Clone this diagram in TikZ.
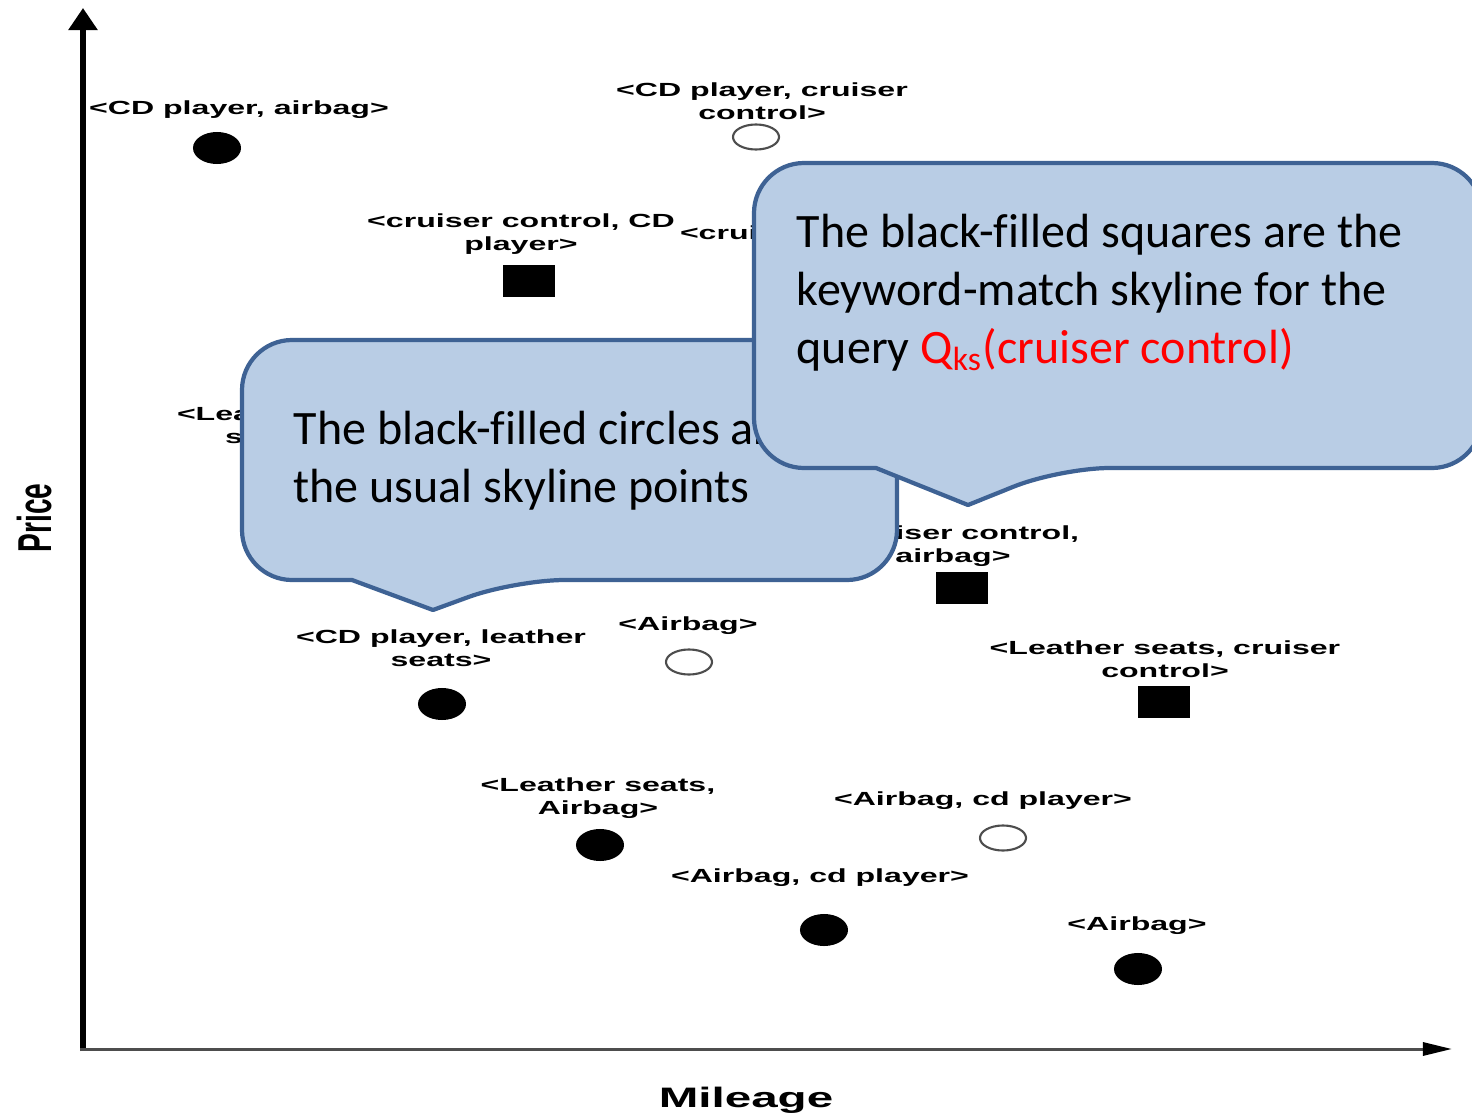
\documentclass[tikz,border=0pt]{standalone}
\usepackage{fontspec}
\usepackage{graphicx}
\usetikzlibrary{shapes.geometric,arrows.meta}
\setmainfont{Liberation Sans}
\newfontfamily\calfont[Ligatures=NoCommon]{Carlito}
\newcommand{\ptlabel}[1]{\scalebox{1.69}[1]{\fontsize{5.4pt}{6.55pt}\selectfont\bfseries\begin{tabular}{@{}c@{}}#1\end{tabular}}}
\definecolor{calfill}{HTML}{B9CDE5}
\definecolor{caledge}{HTML}{3E6294}
\definecolor{axgray}{HTML}{4D4D4D}
\definecolor{qred}{HTML}{FF0000}
\begin{document}
\begin{tikzpicture}[x=0.01cm,y=-0.01cm,
  lbl/.style={inner sep=0pt, outer sep=0pt},
  dotfill/.style={ellipse, fill=black, inner sep=0pt, minimum width=0.48cm, minimum height=0.32cm},
  dotopen/.style={ellipse, draw=axgray, line width=0.6pt, fill=white, inner sep=0pt, minimum width=0.46cm, minimum height=0.25cm},
  sqr/.style={rectangle, fill=black, inner sep=0pt, minimum width=0.52cm, minimum height=0.32cm},
  callout/.style={fill=calfill, draw=caledge, line width=1.2pt, line join=round},
  caltext/.style={inner sep=0pt, anchor=base west, font=\calfont\fontsize{13.65pt}{16.5pt}\selectfont}
]
\clip (0,0) rectangle (1472,1115);
\fill[white] (0,0) rectangle (1472,1115);

% axes
\coordinate (O) at (83,1049);
\coordinate (ybot) at (83,1051);
\coordinate (xstart) at (80,1049);
\coordinate (ytip) at (83,8);
\coordinate (xtip) at (1452,1049);
\draw[line width=1.7pt, -{Triangle[length=0.22cm,width=0.28cm]}] (ybot) -- (ytip);
\draw[line width=0.85pt, axgray, -{Triangle[length=0.29cm,width=0.13cm,color=black]}] (xstart) -- (xtip);

\node[lbl, rotate=90] (price) at (35,518) {\scalebox{1}[1.69]{\fontsize{8pt}{9pt}\selectfont\bfseries Price}};
\node[lbl] (mileage) at (746,1100) {\scalebox{1.69}[1]{\fontsize{8pt}{9pt}\selectfont\bfseries Mileage}};

% labels
\node[lbl] (l1) at (239,110) {\ptlabel{<CD player, airbag>}};
\node[lbl] (l2) at (762,103.5) {\ptlabel{<CD player, cruiser\\control>}};
\node[lbl] (l3) at (521,234.5) {\ptlabel{<cruiser control, CD\\player>}};
\node[lbl, anchor=west] (l4) at (680,235) {\ptlabel{<crui}};
\node[lbl, anchor=west] (l5a) at (177,416) {\ptlabel{<Lea}};
\node[lbl, anchor=west] (l5b) at (225,439) {\ptlabel{s}};
\node[lbl] (l6) at (953,546.5) {\ptlabel{<cruiser control,\\airbag>}};
\node[lbl] (l7) at (441,650.5) {\ptlabel{<CD player, leather\\seats>}};
\node[lbl] (l8) at (688,626) {\ptlabel{<Airbag>}};
\node[lbl] (l9) at (1165,661.5) {\ptlabel{<Leather seats, cruiser\\control>}};
\node[lbl] (l10) at (598,798.5) {\ptlabel{<Leather seats,\\Airbag>}};
\node[lbl] (l11) at (983,801) {\ptlabel{<Airbag, cd player>}};
\node[lbl] (l12) at (820,878) {\ptlabel{<Airbag, cd player>}};
\node[lbl] (l13) at (1137,926) {\ptlabel{<Airbag>}};

% points
\node[dotfill] (p1) at (217,148) {};
\node[dotopen] (p2) at (756,137) {};
\node[sqr] (p3) at (529,281) {};
\node[sqr] (p6) at (962,588) {};
\node[dotfill] (p7) at (442,704) {};
\node[dotopen] (p8) at (689,662) {};
\node[sqr] (p9) at (1164,702) {};
\node[dotfill] (p10) at (600,845) {};
\node[dotopen] (p11) at (1003,838) {};
\node[dotfill] (p12) at (824,930) {};
\node[dotfill] (p13) at (1138,969) {};

% left callout
\draw[callout] (352,580) [rounded corners=0.5cm] -- (242,580) -- (242,340) -- (897,340) -- (897,580) -- (515,580) [sharp corners] -- (433,610) -- cycle;
\node[caltext] (t1) at (293,444) {\begin{tabular}[t]{@{}l@{}}The black-filled circles are\\the usual skyline points\end{tabular}};

% right callout
\draw[callout] (876,468) [rounded corners=0.5cm] -- (754,468) -- (754,163) -- (1482,163) -- (1482,468) -- (1060,468) [sharp corners] -- (968,505) -- cycle;
\node[caltext] (t2) at (796,247) {\begin{tabular}[t]{@{}l@{}}The black-filled squares are the\\keyword-match skyline for the\\query \textcolor{qred}{Q\textsubscript{ks}(cruiser control)}\end{tabular}};
\end{tikzpicture}
\end{document}
